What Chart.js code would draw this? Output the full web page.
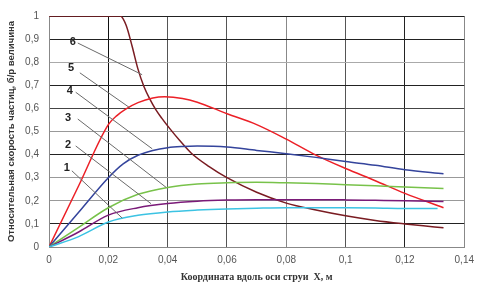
<!DOCTYPE html>
<html>
<head>
<meta charset="utf-8">
<script src="https://cdn.jsdelivr.net/npm/chart.js@4"></script>
<style>
  html, body { margin: 0; padding: 0; background: #fff; }
  #wrap { width: 481px; height: 288px; }
</style>
</head>
<body>
<div id="wrap"><canvas id="jetChart" width="481" height="288"></canvas></div>
<script>
// curve 6
const x6 = [0, 0.01, 0.02, 0.024, 0.026, 0.028, 0.03, 0.032, 0.034, 0.036, 0.038, 0.041, 0.044, 0.048, 0.054, 0.06, 0.07, 0.08, 0.09, 0.1, 0.11, 0.12, 0.13, 0.133];
const v6 = [1, 1, 1, 1, 0.96, 0.87, 0.77, 0.695, 0.64, 0.595, 0.558, 0.508, 0.462, 0.406, 0.348, 0.3, 0.237, 0.19, 0.16, 0.135, 0.115, 0.1, 0.087, 0.083];
// curve 5
const x5 = [0, 0.01, 0.02, 0.023, 0.026, 0.03, 0.035, 0.039, 0.045, 0.05, 0.06, 0.07, 0.08, 0.09, 0.1, 0.11, 0.12, 0.133];
const v5 = [0, 0.265, 0.53, 0.57, 0.598, 0.625, 0.645, 0.65, 0.643, 0.627, 0.577, 0.53, 0.467, 0.398, 0.34, 0.287, 0.232, 0.17];
// curve 4
const x4 = [0, 0.01, 0.02, 0.025, 0.03, 0.035, 0.04, 0.045, 0.05, 0.06, 0.07, 0.08, 0.09, 0.1, 0.11, 0.12, 0.133];
const v4 = [0, 0.15, 0.3, 0.36, 0.397, 0.418, 0.43, 0.435, 0.437, 0.433, 0.418, 0.404, 0.388, 0.37, 0.354, 0.334, 0.317];
// curves 3, 2, 1
const xLow = [0, 0.01, 0.02, 0.03, 0.04, 0.05, 0.06, 0.07, 0.08, 0.09, 0.1, 0.11, 0.12, 0.133];
const v3 = [0, 0.085, 0.17, 0.228, 0.258, 0.273, 0.278, 0.28, 0.278, 0.275, 0.27, 0.265, 0.26, 0.253];
const v2 = [0, 0.065, 0.138, 0.17, 0.188, 0.198, 0.203, 0.205, 0.205, 0.205, 0.204, 0.202, 0.2, 0.197];
const x1 = [0, 0.01, 0.02, 0.03, 0.04, 0.05, 0.06, 0.07, 0.08, 0.09, 0.1, 0.11, 0.12, 0.131];
const v1 = [0, 0.045, 0.108, 0.137, 0.152, 0.16, 0.165, 0.168, 0.17, 0.17, 0.17, 0.169, 0.167, 0.167];

// callout labels and leader lines (axis units)
const calloutText = ['1', '2', '3', '4', '5', '6'];
const calloutX = [0.006, 0.0064, 0.0064, 0.007, 0.0074, 0.008];
const calloutY = [0.342, 0.442, 0.558, 0.675, 0.775, 0.888];
const leaderFromX = [0.0077, 0.009, 0.0097, 0.009, 0.0104, 0.0097];
const leaderFromY = [0.33, 0.4375, 0.554, 0.67, 0.754, 0.883];
const leaderToX = [0.0247, 0.0344, 0.0395, 0.0348, 0.0271, 0.0314];
const leaderToY = [0.125, 0.1875, 0.258, 0.425, 0.604, 0.746];

const yGridColors = ['#888', '#222', '#999', '#999', '#222', '#999', '#444', '#222', '#aaa', '#222', '#222'];
const xGridColors = ['#888', '#111', '#555', '#555', '#888', '#555', '#222', '#888'];

function pts(xs, vs) {
    const out = [];
    for (let i = 0; i < xs.length; i++) {
        out.push({ x: xs[i], y: vs[i] });
    }
    return out;
}

function comma(v, d) {
    return Number(v.toFixed(d)).toString().replace('.', ',');
}

const datasets = [];
for (let i = 0; i < calloutText.length; i++) {
    datasets.push({
        data: [{ x: leaderFromX[i], y: leaderFromY[i] }, { x: leaderToX[i], y: leaderToY[i] }],
        borderColor: '#6a6a6a',
        borderWidth: 1,
        pointRadius: 0,
        tension: 0
    });
}

const curves = [
    { data: pts(x1, v1), color: '#3cc3e3' },
    { data: pts(xLow, v2), color: '#7a1a78' },
    { data: pts(xLow, v3), color: '#78c24a' },
    { data: pts(x4, v4), color: '#34449c' },
    { data: pts(x5, v5), color: '#ec2027' },
    { data: pts(x6, v6), color: '#7a1c22' }
];
curves.forEach(function (c) {
    datasets.push({
        data: c.data,
        borderColor: c.color,
        borderWidth: 1.5,
        pointRadius: 0,
        cubicInterpolationMode: 'monotone'
    });
});

const callouts = {
    id: 'callouts',
    afterDatasetsDraw(chart) {
        const ctx = chart.ctx;
        const xs = chart.scales.x;
        const ys = chart.scales.y;
        ctx.save();
        ctx.font = 'bold 11px Arial';
        ctx.fillStyle = '#222';
        ctx.textAlign = 'center';
        ctx.textBaseline = 'middle';
        for (let i = 0; i < calloutText.length; i++) {
            ctx.fillText(calloutText[i], xs.getPixelForValue(calloutX[i]), ys.getPixelForValue(calloutY[i]));
        }
        ctx.restore();
    }
};

new Chart(document.getElementById('jetChart').getContext('2d'), {
    type: 'line',
    data: { datasets: datasets },
    plugins: [callouts],
    options: {
        responsive: false,
        animation: false,
        layout: { padding: { top: 7, right: 14, left: 0, bottom: 0 } },
        plugins: { legend: { display: false }, tooltip: { enabled: false } },
        scales: {
            x: {
                type: 'linear',
                min: 0,
                max: 0.14,
                afterFit: function (s) { s.height = 41; },
                ticks: {
                    stepSize: 0.02,
                    color: '#555',
                    font: { family: 'Arial', size: 10 },
                    padding: 7,
                    maxRotation: 0,
                    callback: function (v) { return comma(v, 2); }
                },
                grid: {
                    drawTicks: false,
                    color: function (c) { return xGridColors[c.index] || '#888'; }
                },
                border: { color: '#888' },
                title: {
                    display: true,
                    text: 'Координата вдоль оси струи  X, м',
                    color: '#333',
                    font: { family: 'Liberation Serif', size: 10, weight: 'bold' },
                    padding: { top: 0, bottom: 5 }
                }
            },
            y: {
                min: 0,
                max: 1,
                afterFit: function (s) { s.width = 49; },
                ticks: {
                    stepSize: 0.1,
                    color: '#555',
                    font: { family: 'Arial', size: 10 },
                    padding: 10,
                    callback: function (v) { return comma(v, 1); }
                },
                grid: {
                    drawTicks: false,
                    color: function (c) { return yGridColors[c.index] || '#888'; }
                },
                border: { color: '#888' },
                title: {
                    display: true,
                    text: 'Относительная скорость частиц, б/р величина',
                    color: '#333',
                    font: { family: 'Arial', size: 9.5, weight: 'bold' },
                    padding: { top: 6, bottom: 0 }
                }
            }
        }
    }
});
</script>
</body>
</html>
